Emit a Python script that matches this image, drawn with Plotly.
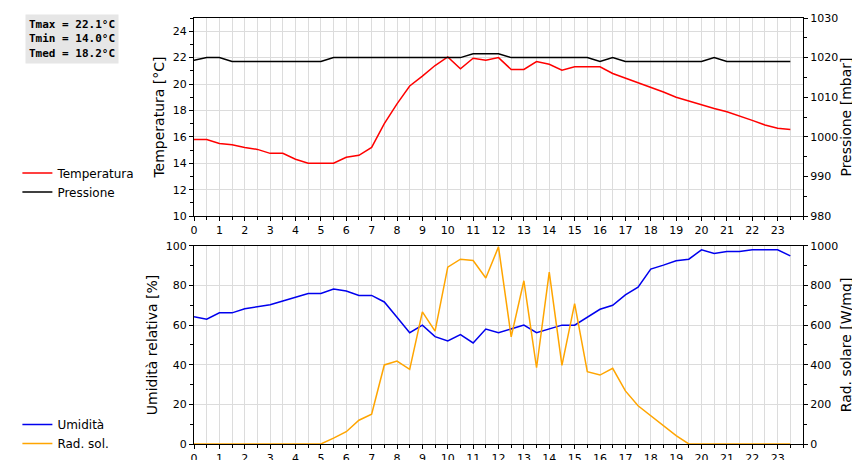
import plotly.graph_objects as go

HOURS = [i * 0.5 for i in range(48)]

TEMP = [15.8, 15.8, 15.5, 15.4, 15.2, 15.05, 14.75, 14.75, 14.3, 14.0, 14.0, 14.0,
        14.45, 14.6, 15.2, 17.0, 18.5, 19.85, 20.6, 21.4, 22.05, 21.15, 21.95, 21.8,
        22.0, 21.1, 21.1, 21.7, 21.5, 21.05, 21.3, 21.3, 21.3, 20.8, 20.45, 20.15,
        19.75, 19.4, 19.0, 18.7, 18.4, 18.15, 17.9, 17.6, 17.25, 16.9, 16.65, 16.55]

PRESS = [1019.3, 1020, 1020, 1019, 1019, 1019, 1019, 1019, 1019, 1019, 1019, 1020,
         1020, 1020, 1020, 1020, 1020, 1020, 1020, 1020, 1020, 1020, 1021, 1021,
         1021, 1020, 1020, 1020, 1020, 1020, 1020, 1020, 1019, 1020, 1019, 1019,
         1019, 1019, 1019, 1019, 1019, 1020, 1019, 1019, 1019, 1019, 1019, 1019]

HUM = [64.2, 63, 66.2, 66.2, 68.3, 69.3, 70.3, 72.2, 74, 76, 76, 78.2,
       77.2, 75, 75, 71.7, 64, 56.2, 60, 54.2, 52, 55.2, 51, 58,
       56.2, 58, 60, 56.2, 58, 60, 60, 64.2, 68, 70, 75.3, 79.2,
       88.3, 90.3, 92.5, 93.3, 98, 96.2, 97.2, 97.2, 98, 98, 98, 95]

RAD = [0, 0, 0, 0, 0, 0, 0, 0, 0, 0, 0, 30,
       62, 120, 150, 399, 419, 377, 667, 570, 893, 933, 926, 838,
       995, 541, 824, 385, 868, 397, 709, 365, 348, 382, 268, 193,
       142, 92, 42, 0, 0, 0, 0, 0, 0, 0, 0, 0]

STATS = ["Tmax = 22.1°C", "Tmin = 14.0°C", "Tmed = 18.2°C"]

FONT = "DejaVu Sans"
GRID = "#dcdcdc"

fig = go.Figure()
fig.add_trace(go.Scatter(x=HOURS, y=TEMP, name="Temperatura", mode="lines",
                         line={"color": "#ff0000", "width": 1.5}, xaxis="x", yaxis="y", legend="legend"))
fig.add_trace(go.Scatter(x=HOURS, y=PRESS, name="Pressione", mode="lines",
                         line={"color": "#000000", "width": 1.5}, xaxis="x", yaxis="y2", legend="legend"))
fig.add_trace(go.Scatter(x=HOURS, y=HUM, name="Umidità", mode="lines",
                         line={"color": "#0000ee", "width": 1.5}, xaxis="x2", yaxis="y3", legend="legend2"))
fig.add_trace(go.Scatter(x=HOURS, y=RAD, name="Rad. sol.", mode="lines",
                         line={"color": "#ffa500", "width": 1.5}, xaxis="x2", yaxis="y4", legend="legend2"))

xcommon = dict(range=[0, 24], tickmode="array", tickvals=list(range(24)), ticks="outside",
               ticklen=4, tickcolor="black", showgrid=True, gridcolor=GRID,
               minor=dict(dtick=0.5, tick0=0, showgrid=True, gridcolor=GRID, ticks="outside", ticklen=3),
               showline=True, linecolor="black", mirror=True, zeroline=False,
               tickfont={"size": 11}, automargin=False)
ycommon = dict(ticks="outside", ticklen=4, tickcolor="black", showgrid=True, gridcolor=GRID,
               showline=True, linecolor="black", zeroline=False, tickfont={"size": 11},
               title_font={"size": 14}, automargin=False)

fig.update_layout(
    width=860, height=460,
    margin={"l": 175, "r": 65, "t": 10, "b": 20},
    font={"family": FONT, "size": 12, "color": "black"},
    plot_bgcolor="white", paper_bgcolor="white",
    xaxis=dict(xcommon, domain=[0, 1], anchor="y"),
    xaxis2=dict(xcommon, domain=[0, 1], anchor="y3"),
    yaxis=dict(ycommon, domain=[0.535, 1], range=[10, 25], tickvals=list(range(10, 25, 2)),
               minor=dict(dtick=1, ticks="outside", ticklen=3, showgrid=False),
               title_text="Temperatura [°C]", title_standoff=4),
    yaxis2=dict(ycommon, overlaying="y", side="right", range=[980, 1030], dtick=10, showgrid=False,
                minor=dict(dtick=5, ticks="outside", ticklen=3),
                title_text="Pressione [mbar]", title_standoff=4),
    yaxis3=dict(ycommon, domain=[0, 0.465], range=[0, 100], dtick=20,
                minor=dict(dtick=10, ticks="outside", ticklen=3, showgrid=False),
                title_text="Umidità relativa [%]", title_standoff=4),
    yaxis4=dict(ycommon, overlaying="y3", side="right", range=[0, 1000], dtick=200, showgrid=False,
                minor=dict(dtick=100, ticks="outside", ticklen=3),
                title_text="Rad. solare [W/mq]", title_standoff=4),
    legend=dict(x=-0.29, xanchor="left", y=0.67, yanchor="top", xref="paper", yref="paper",
                font={"size": 12}, bgcolor="rgba(0,0,0,0)", tracegroupgap=0, itemwidth=30),
    legend2=dict(x=-0.29, xanchor="left", y=0.08, yanchor="top", xref="paper", yref="paper",
                 font={"size": 12}, bgcolor="rgba(0,0,0,0)", tracegroupgap=0, itemwidth=30),
)

fig.add_annotation(xref="paper", yref="paper", x=-0.277, y=1.01, xanchor="left", yanchor="top",
                   text="<br>".join(f"<b>{s}</b>" for s in STATS), showarrow=False, align="left",
                   font={"family": "DejaVu Sans Mono", "size": 11}, bgcolor="#e6e6e6", borderpad=3)

fig.write_html("out.html")
